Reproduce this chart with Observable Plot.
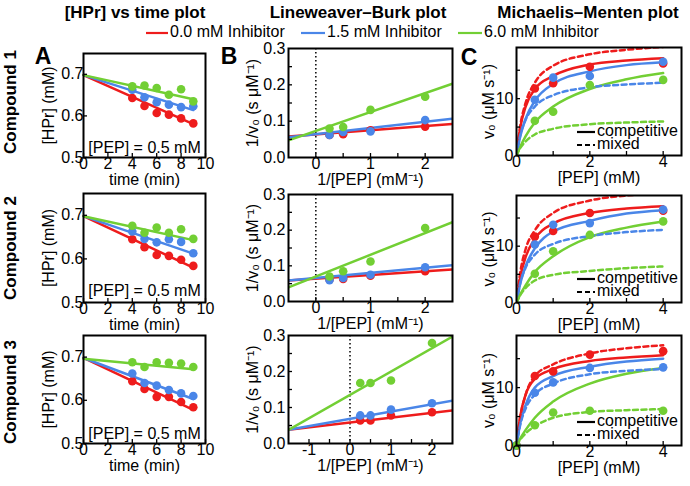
<!DOCTYPE html>
<html><head><meta charset="utf-8">
<script src="https://cdn.jsdelivr.net/npm/d3@7"></script>
<script src="https://cdn.jsdelivr.net/npm/@observablehq/plot@0.6"></script>
<style>
body{margin:0;background:#fff;}
#fig{position:relative;width:690px;height:486px;overflow:hidden;font-family:"Liberation Sans",Arial,sans-serif;color:#000;background:#fff;}
.abs{position:absolute;white-space:nowrap;line-height:1;}
.fig-svg{position:absolute;overflow:visible;}
</style></head>
<body><div id="fig"></div>
<script>
// ---------- text ----------
const titles = ["[HPr] vs time plot", "Lineweaver\u2013Burk plot", "Michaelis\u2013Menten plot"];
const compounds = ["Compound 1", "Compound 2", "Compound 3"];
const inhibitors = ["0.0 mM Inhibitor", "1.5 mM Inhibitor", "6.0 mM Inhibitor"];
const colors = ["#ee1c1c", "#4a86e8", "#72cf34"];
const panelLetters = ["A", "B", "C"];
const pepNote = "[PEP] = 0.5 mM";
const fitTypes = ["competitive", "mixed"];
const axisLabels = {
  time: "time (min)", hpr: "[HPr] (mM)",
  invPep: "1/[PEP] (mM\u207B\u00B9)", invV: "1/v\u2080 (s \u03BCM\u207B\u00B9)",
  pep: "[PEP] (mM)", v: "v\u2080 (\u03BCM s\u207B\u00B9)"
};

// ---------- A: [HPr] vs time ----------
const time = [4, 5, 6, 7, 8, 9];
const fitTime = [0, 9];
const hpr1Red   = [0.643, 0.624, 0.607, 0.603, 0.594, 0.582];
const hpr1Blue  = [0.663, 0.645, 0.633, 0.627, 0.621, 0.623];
const hpr1Green = [0.671, 0.673, 0.667, 0.651, 0.664, 0.635];
const hpr2Red   = [0.645, 0.627, 0.609, 0.607, 0.598, 0.584];
const hpr2Blue  = [0.663, 0.646, 0.638, 0.645, 0.639, 0.613];
const hpr2Green = [0.676, 0.660, 0.672, 0.660, 0.668, 0.646];
const hpr3Red   = [0.644, 0.626, 0.608, 0.608, 0.596, 0.584];
const hpr3Blue  = [0.662, 0.640, 0.634, 0.624, 0.616, 0.610];
const hpr3Green = [0.688, 0.677, 0.688, 0.687, 0.685, 0.677];
const hprFit1Red = [0.698, 0.580], hprFit1Blue = [0.698, 0.614], hprFit1Green = [0.698, 0.640];
const hprFit2Red = [0.698, 0.580], hprFit2Blue = [0.698, 0.612], hprFit2Green = [0.698, 0.643];
const hprFit3Red = [0.698, 0.578], hprFit3Blue = [0.698, 0.603], hprFit3Green = [0.696, 0.672];

// ---------- B: Lineweaver-Burk ----------
const invPep = [0.25, 0.5, 1, 2];
const lb1Red   = [0.062, 0.064, 0.075, 0.085];
const lb1Blue  = [0.062, 0.070, 0.072, 0.103];
const lb1Green = [0.080, 0.084, 0.131, 0.167];
const lb2Red   = [0.062, 0.063, 0.072, 0.085];
const lb2Blue  = [0.060, 0.066, 0.075, 0.096];
const lb2Green = [0.070, 0.085, 0.112, 0.206];
const lb3Red   = [0.064, 0.064, 0.078, 0.087];
const lb3Blue  = [0.078, 0.078, 0.094, 0.112];
const lb3Green = [0.168, 0.168, 0.175, 0.279];
const lbFitX12 = [-0.5, 2.5];
const lbFitX3 = [-1.5, 2.5];
const lbFit1Red = [0.058, 0.092], lbFit1Blue = [0.0555, 0.1065], lbFit1Green = [0.047, 0.203];
const lbFit2Red = [0.0588, 0.090], lbFit2Blue = [0.0588, 0.102], lbFit2Green = [0.0395, 0.2225];
const lbFit3Red = [0.038, 0.092], lbFit3Blue = [0.038, 0.119], lbFit3Green = [0.038, 0.297];

// ---------- C: Michaelis-Menten ----------
const pep = [0.5, 1, 2, 4];
const pep3 = [0, 0.5, 1, 2, 4];
const mm1Red   = [11.8, 12.7, 15.6, 16.2];
const mm1Blue  = [9.8, 13.7, 14.0, 16.5];
const mm1Green = [6.1, 7.7, 12.4, 13.3];
const mm2Red   = [11.7, 12.7, 15.9, 16.3];
const mm2Blue  = [10.3, 13.8, 14.1, 16.5];
const mm2Green = [5.1, 9.1, 12.0, 14.4];
const mm3Red   = [0, 12.0, 12.8, 15.7, 16.3];
const mm3Blue  = [0, 9.1, 10.9, 13.4, 13.5];
const mm3Green = [0, 3.5, 5.7, 6.0, 6.0];
const curvePep = [0, 0.1, 0.25, 0.5, 1, 2, 3, 4];
const mm1CompRed   = [0, 4.8, 8.6, 11.7, 14.0, 16.0, 16.7, 17.1];
const mm1MixRed    = [0, 5.1, 9.3, 12.8, 15.8, 17.8, 18.6, 19.1];
const mm1CompBlue  = [0, 3.3, 6.5, 9.6, 12.6, 14.8, 15.9, 16.4];
const mm1MixBlue   = [0, 3.5, 6.3, 8.6, 10.6, 12.0, 12.5, 12.8];
const mm1CompGreen = [0, 1.5, 3.4, 5.8, 8.6, 11.7, 13.4, 14.5];
const mm1MixGreen  = [0, 1.3, 2.5, 3.7, 4.7, 5.5, 5.8, 6.0];
const mm2CompRed   = [0, 4.4, 8.1, 11.3, 14.0, 15.9, 16.7, 17.1];
const mm2MixRed    = [0, 5.2, 9.5, 12.8, 15.9, 18.1, 19.0, 19.4];
const mm2CompBlue  = [0, 3.3, 6.5, 9.6, 12.6, 14.5, 15.8, 16.4];
const mm2MixBlue   = [0, 3.4, 6.2, 8.5, 10.4, 11.8, 12.5, 12.9];
const mm2CompGreen = [0, 1.4, 3.1, 5.4, 8.2, 11.6, 13.3, 14.4];
const mm2MixGreen  = [0, 1.3, 2.6, 3.9, 4.9, 5.6, 6.1, 6.4];
const mm3CompRed   = [0, 5.0, 8.8, 11.5, 13.2, 14.6, 15.2, 15.6];
const mm3MixRed    = [0, 4.8, 8.8, 12.0, 14.0, 15.9, 16.8, 17.3];
const mm3CompBlue  = [0, 3.8, 7.0, 10.0, 12.0, 13.6, 14.5, 15.0];
const mm3MixBlue   = [0, 3.5, 6.4, 8.8, 10.7, 12.3, 12.9, 13.2];
const mm3CompGreen = [0, 1.2, 2.7, 4.8, 7.6, 10.7, 12.4, 13.4];
const mm3MixGreen  = [0, 1.0, 2.1, 3.3, 4.8, 5.8, 6.1, 6.3];

// ---------- ticks ----------
const timeTicks = [0, 2, 4, 6, 8, 10];
const hprTicks = [0.5, 0.6, 0.7];
const lbXTicks12 = [0, 1, 2];
const lbXTicks3 = [-1, 0, 1, 2];
const lbXMinor12 = [0, 0.5, 1, 1.5, 2];
const lbXMinor3 = [-1, -0.5, 0, 0.5, 1, 1.5, 2];
const lbYTicks = [0, 0.1, 0.2, 0.3];
const lbYMinor = [0.05, 0.1, 0.15, 0.2, 0.25];
const mmXTicks = [0, 2, 4];
const mmXMinor = [1, 2, 3, 4];
const mmYTicks = [0, 10];
const mmYMinor = [5, 10, 15];

// ---------- helpers ----------
const fig = document.getElementById("fig");
const FONT = '"Liberation Sans", Arial, sans-serif';
function rows(xs, ysList) {
  const out = [];
  ysList.forEach((ys, k) => xs.forEach((x, i) => out.push({x, y: ys[i], s: inhibitors[k]})));
  return out;
}
function div(txt, x, y, size, weight, extra) {
  const d = document.createElement("div");
  d.className = "abs";
  d.textContent = txt;
  d.style.left = x + "px";
  d.style.top = y + "px";
  d.style.fontSize = size + "px";
  d.style.fontWeight = weight || "normal";
  d.style.transform = extra || "translate(-50%,-50%)";
  fig.append(d);
  return d;
}
function swatch(x1, x2, y, color, dash) {
  const ns = "http://www.w3.org/2000/svg";
  const s = document.createElementNS(ns, "svg");
  s.setAttribute("width", x2 - x1 + 2);
  s.setAttribute("height", 6);
  s.style.position = "absolute";
  s.style.left = (x1 - 1) + "px";
  s.style.top = (y - 3) + "px";
  const l = document.createElementNS(ns, "line");
  l.setAttribute("x1", 1); l.setAttribute("x2", x2 - x1 + 1);
  l.setAttribute("y1", 3); l.setAttribute("y2", 3);
  l.setAttribute("stroke", color); l.setAttribute("stroke-width", 2.2);
  if (dash) l.setAttribute("stroke-dasharray", dash);
  s.append(l);
  fig.append(s);
}
function panel(o) {
  const ml = o.ml, mr = 14, mt = 8, mb = 36;
  const p = Plot.plot({
    width: o.w + ml + mr, height: o.h + mt + mb,
    marginLeft: ml, marginRight: mr, marginTop: mt, marginBottom: mb,
    x: {domain: o.xd}, y: {domain: o.yd},
    color: {domain: inhibitors, range: colors},
    style: {fontFamily: FONT, fontSize: "16px", color: "black", background: "transparent", overflow: "visible"},
    marks: [
      ...o.marks,
      Plot.tickX(o.xMinor, {x: d => d, insetTop: o.h - 4, stroke: "black", strokeWidth: 1.3}),
      Plot.tickY(o.yMinor, {y: d => d, insetRight: o.w - 4, stroke: "black", strokeWidth: 1.3}),
      Plot.frame({stroke: "black", strokeWidth: 2}),
      Plot.axisX({ticks: o.xTicks, tickSize: 0, tickPadding: 0, tickFormat: o.xFmt,
        label: o.xLabel, labelAnchor: "center", labelOffset: 27, labelArrow: "none"}),
      Plot.axisY({ticks: o.yTicks, tickSize: 0, tickPadding: o.yPad, tickFormat: o.yFmt,
        label: o.yLabel, labelAnchor: "center", labelOffset: o.yOff, labelArrow: "none"})
    ]
  });
  p.classList.add("fig-svg");
  p.style.left = (o.left - ml) + "px";
  p.style.top = (o.top - mt) + "px";
  fig.append(p);
}
const f1 = d3.format(".1f");
const plain = d => String(d);

// ---------- layout ----------
const A = [
  {top: 53, h: 104, pts: [hpr1Red, hpr1Blue, hpr1Green], fit: [hprFit1Red, hprFit1Blue, hprFit1Green], note: 10},
  {top: 193, h: 109, pts: [hpr2Red, hpr2Blue, hpr2Green], fit: [hprFit2Red, hprFit2Blue, hprFit2Green], note: 12},
  {top: 335, h: 108, pts: [hpr3Red, hpr3Blue, hpr3Green], fit: [hprFit3Red, hprFit3Blue, hprFit3Green], note: 10}
];
const B = [
  {top: 48, h: 109, xd: lbFitX12, xt: lbXTicks12, xm: lbXMinor12, pts: [lb1Red, lb1Blue, lb1Green], fit: [lbFit1Red, lbFit1Blue, lbFit1Green]},
  {top: 194, h: 107, xd: lbFitX12, xt: lbXTicks12, xm: lbXMinor12, pts: [lb2Red, lb2Blue, lb2Green], fit: [lbFit2Red, lbFit2Blue, lbFit2Green]},
  {top: 335, h: 108, xd: lbFitX3, xt: lbXTicks3, xm: lbXMinor3, pts: [lb3Red, lb3Blue, lb3Green], fit: [lbFit3Red, lbFit3Blue, lbFit3Green]}
];
const C = [
  {top: 47, h: 108, px: pep, pts: [mm1Red, mm1Blue, mm1Green], comp: [mm1CompRed, mm1CompBlue, mm1CompGreen], mix: [mm1MixRed, mm1MixBlue, mm1MixGreen]},
  {top: 195, h: 107, px: pep, pts: [mm2Red, mm2Blue, mm2Green], comp: [mm2CompRed, mm2CompBlue, mm2CompGreen], mix: [mm2MixRed, mm2MixBlue, mm2MixGreen]},
  {top: 335, h: 110, px: pep3, pts: [mm3Red, mm3Blue, mm3Green], comp: [mm3CompRed, mm3CompBlue, mm3CompGreen], mix: [mm3MixRed, mm3MixBlue, mm3MixGreen]}
];

A.forEach(c => {
  panel({left: 83, top: c.top, w: 122, h: c.h, ml: 62, xd: [0, 10], yd: [0.5, 0.75],
    xTicks: timeTicks, xMinor: timeTicks, yTicks: hprTicks, yMinor: hprTicks, xFmt: plain, yFmt: f1,
    xLabel: axisLabels.time, yLabel: axisLabels.hpr, yPad: 0, yOff: 41,
    marks: [
      Plot.line(rows(fitTime, c.fit), {x: "x", y: "y", z: "s", stroke: "s", strokeWidth: 2.5}),
      Plot.dot(rows(time, c.pts), {x: "x", y: "y", fill: "s", r: 4.3}),
      Plot.text([pepNote], {text: d => d, frameAnchor: "bottom", dy: -c.note, lineAnchor: "middle", fontSize: 16})
    ]});
});
B.forEach(c => {
  panel({left: 288, top: c.top, w: 164, h: c.h, ml: 50, xd: c.xd, yd: [0, 0.3],
    xTicks: c.xt, xMinor: c.xm, yTicks: lbYTicks, yMinor: lbYMinor, xFmt: plain, yFmt: f1,
    xLabel: axisLabels.invPep, yLabel: axisLabels.invV, yPad: 3, yOff: 42,
    marks: [
      Plot.ruleX([0], {stroke: "black", strokeWidth: 1.5, strokeDasharray: "1.5,2.5"}),
      Plot.line(rows(c.xd, c.fit), {x: "x", y: "y", z: "s", stroke: "s", strokeWidth: 2.5, clip: true}),
      Plot.dot(rows(invPep, c.pts), {x: "x", y: "y", fill: "s", r: 4.3})
    ]});
});
C.forEach(c => {
  panel({left: 516, top: c.top, w: 165, h: c.h, ml: 44, xd: [0, 4.5], yd: [0, 19],
    xTicks: mmXTicks, xMinor: mmXMinor, yTicks: mmYTicks, yMinor: mmYMinor, xFmt: plain, yFmt: plain,
    xLabel: axisLabels.pep, yLabel: axisLabels.v, yPad: 3, yOff: 34,
    marks: [
      Plot.line(rows(curvePep, c.comp), {x: "x", y: "y", z: "s", stroke: "s", strokeWidth: 2.5, curve: "monotone-x", clip: true}),
      Plot.line(rows(curvePep, c.mix), {x: "x", y: "y", z: "s", stroke: "s", strokeWidth: 2.5, strokeDasharray: "5,3.5", curve: "monotone-x", clip: true}),
      Plot.dot(rows(c.px, c.pts), {x: "x", y: "y", fill: "s", r: 4.3})
    ]});
  const bottom = c.top + c.h;
  swatch(577, 595, bottom - 23, "black", null);
  div(fitTypes[0], 597, bottom - 23, 16, "normal", "translate(0,-55%)");
  swatch(577, 595, bottom - 10, "black", "5,3");
  div(fitTypes[1], 597, bottom - 10, 16, "normal", "translate(0,-55%)");
});

// ---------- titles, legend, letters, row labels ----------
div(titles[0], 135, 12, 17, "bold");
div(titles[1], 358, 12, 17, "bold");
div(titles[2], 588, 12, 17, "bold");

const legX = [[146, 168], [301, 325], [458, 482]];
legX.forEach((lx, i) => {
  swatch(lx[0], lx[1], 33, colors[i], null);
  div(inhibitors[i], lx[1] + 2, 33, 16, "normal", "translate(0,-55%)");
});

div(panelLetters[0], 43, 56, 23, "bold");
div(panelLetters[1], 229, 56, 23, "bold");
div(panelLetters[2], 469, 57, 23, "bold");

div(compounds[0], 10, 102, 17, "bold", "translate(-50%,-50%) rotate(-90deg)");
div(compounds[1], 10, 248, 17, "bold", "translate(-50%,-50%) rotate(-90deg)");
div(compounds[2], 10, 392, 17, "bold", "translate(-50%,-50%) rotate(-90deg)");
</script></body></html>
